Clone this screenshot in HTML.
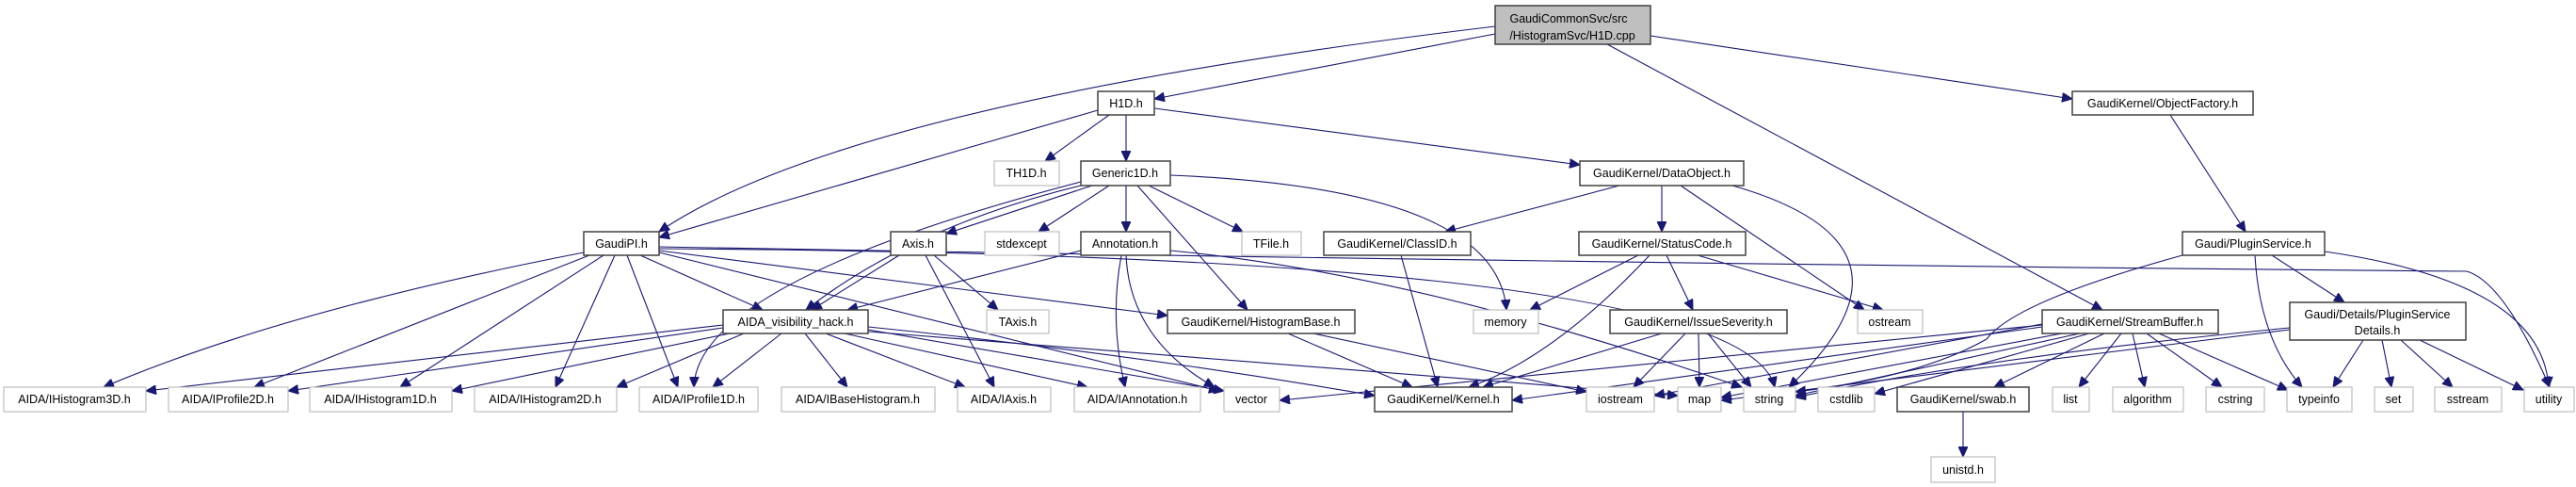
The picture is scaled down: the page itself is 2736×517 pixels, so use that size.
<!DOCTYPE html>
<html><head><meta charset="utf-8"><style>
html,body{margin:0;padding:0;background:#fff;}
svg{display:block;}
text{font-family:"Liberation Sans",sans-serif;font-size:12.5px;fill:#000;text-anchor:middle;}
.d{fill:#fff;stroke:#404040;stroke-width:1.5;}
.x{fill:#fff;stroke:#bfbfbf;stroke-width:1.2;}
.e path{fill:none;stroke:#191970;stroke-width:1.1;marker-end:url(#a);}
</style></head><body>
<svg width="2736" height="517" viewBox="0 0 2736 517" xmlns="http://www.w3.org/2000/svg">
<defs><marker id="a" markerUnits="userSpaceOnUse" markerWidth="12" markerHeight="10" refX="11" refY="5" orient="auto"><path d="M0,0 L11,5 L0,10 z" fill="#191970" stroke="#191970"/></marker></defs>
<g class="e">
<path d="M1588,36 L1226,105"/>
<path d="M1588,28 Q900,110 700,246"/>
<path d="M1753,38 L2201,105"/>
<path d="M1707,47 L2233,329"/>
<path d="M1166,117 L700,252"/>
<path d="M1178,122 L1110,171"/>
<path d="M1196,122 L1196,171"/>
<path d="M1226,115 L1678,175"/>
<path d="M1160,197 L1005,248"/>
<path d="M1178,197 L1103,246"/>
<path d="M1196,197 L1196,246"/>
<path d="M1220,197 L1320,246"/>
<path d="M1208,197 L1325,329"/>
<path d="M1243,186 Q1590,200 1600,329"/>
<path d="M1152,196 Q970,240 856,329"/>
<path d="M1148,193 Q740,300 737,411"/>
<path d="M955,271 L862,329"/>
<path d="M992,271 L1060,329"/>
<path d="M983,271 L1056,411"/>
<path d="M1148,266 L900,329"/>
<path d="M1191,271 Q1178,340 1195,411"/>
<path d="M1196,271 Q1200,360 1290,411"/>
<path d="M1243,266 Q1500,290 1850,411"/>
<path d="M620,268 Q300,330 110,411"/>
<path d="M626,271 L270,411"/>
<path d="M641,271 L425,411"/>
<path d="M653,271 L590,411"/>
<path d="M666,271 L720,411"/>
<path d="M680,271 L810,329"/>
<path d="M700,266 L1240,335"/>
<path d="M700,268 Q950,330 1295,415"/>
<path d="M700,262 Q1700,280 2620,288 Q2660,300 2708,411"/>
<path d="M700,264 Q1850,270 1885,411"/>
<path d="M768,345 L155,415"/>
<path d="M768,348 L306,415"/>
<path d="M775,354 L480,415"/>
<path d="M790,354 L655,411"/>
<path d="M830,354 L757,411"/>
<path d="M855,354 L900,411"/>
<path d="M877,354 L1025,411"/>
<path d="M897,354 L1155,411"/>
<path d="M922,350 L1300,415"/>
<path d="M922,347 Q1200,375 1460,420"/>
<path d="M922,352 L1782,420"/>
<path d="M1368,354 L1500,411"/>
<path d="M1395,354 L1685,416"/>
<path d="M1720,197 L1535,246"/>
<path d="M1765,197 L1765,246"/>
<path d="M1785,197 L1980,329"/>
<path d="M1840,197 Q2060,260 1900,411"/>
<path d="M1488,271 L1527,411"/>
<path d="M1740,271 L1625,329"/>
<path d="M1752,271 Q1650,380 1560,411"/>
<path d="M1770,271 L1798,329"/>
<path d="M1803,271 L2000,329"/>
<path d="M1765,354 L1575,411"/>
<path d="M1790,354 L1735,411"/>
<path d="M1804,354 L1805,411"/>
<path d="M1814,354 L1860,411"/>
<path d="M2305,122 L2385,246"/>
<path d="M2318,271 Q2140,320 2110,360 Q2040,400 1907,416"/>
<path d="M2395,271 Q2400,360 2445,411"/>
<path d="M2413,271 L2490,321"/>
<path d="M2469,267 Q2700,300 2707,411"/>
<path d="M2169,345 L1359,425"/>
<path d="M2169,347 L1606,425"/>
<path d="M2169,344 L1757,420"/>
<path d="M2190,354 L1828,422"/>
<path d="M2209,354 L1907,420"/>
<path d="M2219,354 L1991,418"/>
<path d="M2235,354 L2118,411"/>
<path d="M2253,354 L2208,411"/>
<path d="M2265,354 L2278,411"/>
<path d="M2280,354 L2360,411"/>
<path d="M2293,354 L2430,414"/>
<path d="M2510,361 L2478,411"/>
<path d="M2530,361 L2540,411"/>
<path d="M2550,361 L2605,411"/>
<path d="M2570,361 L2680,414"/>
<path d="M2432,348 Q2100,380 1907,422"/>
<path d="M2432,350 L1828,425"/>
<path d="M2085,437 L2085,485"/>
</g>
<g>
<rect x="1588" y="6" width="165" height="41" fill="#bfbfbf" stroke="#404040" stroke-width="1.5"/>
<text x="1666" y="24">GaudiCommonSvc/src</text><text x="1670" y="42">/HistogramSvc/H1D.cpp</text>

<rect class="d" x="1166" y="97" width="60" height="25"/><text x="1196" y="114">H1D.h</text>
<rect class="d" x="2201" y="97" width="192" height="25"/><text x="2297" y="114">GaudiKernel/ObjectFactory.h</text>

<rect class="x" x="1056" y="171" width="69" height="26"/><text x="1090" y="188">TH1D.h</text>
<rect class="d" x="1148" y="171" width="95" height="26"/><text x="1195" y="188">Generic1D.h</text>
<rect class="d" x="1678" y="171" width="174" height="26"/><text x="1765" y="188">GaudiKernel/DataObject.h</text>

<rect class="d" x="620" y="246" width="80" height="25"/><text x="660" y="263">GaudiPI.h</text>
<rect class="d" x="946" y="246" width="59" height="25"/><text x="975" y="263">Axis.h</text>
<rect class="x" x="1046" y="246" width="79" height="25"/><text x="1085" y="263">stdexcept</text>
<rect class="d" x="1148" y="246" width="95" height="25"/><text x="1195" y="263">Annotation.h</text>
<rect class="x" x="1319" y="246" width="63" height="25"/><text x="1350" y="263">TFile.h</text>
<rect class="d" x="1406" y="246" width="156" height="25"/><text x="1484" y="263">GaudiKernel/ClassID.h</text>
<rect class="d" x="1677" y="246" width="177" height="25"/><text x="1765" y="263">GaudiKernel/StatusCode.h</text>
<rect class="d" x="2318" y="246" width="151" height="25"/><text x="2393" y="263">Gaudi/PluginService.h</text>

<rect class="d" x="768" y="329" width="154" height="25"/><text x="845" y="346">AIDA_visibility_hack.h</text>
<rect class="x" x="1048" y="329" width="66" height="25"/><text x="1081" y="346">TAxis.h</text>
<rect class="d" x="1240" y="329" width="199" height="25"/><text x="1339" y="346">GaudiKernel/HistogramBase.h</text>
<rect class="x" x="1565" y="329" width="69" height="25"/><text x="1599" y="346">memory</text>
<rect class="d" x="1710" y="329" width="188" height="25"/><text x="1804" y="346">GaudiKernel/IssueSeverity.h</text>
<rect class="x" x="1973" y="329" width="69" height="25"/><text x="2007" y="346">ostream</text>
<rect class="d" x="2169" y="329" width="187" height="25"/><text x="2262" y="346">GaudiKernel/StreamBuffer.h</text>
<rect class="d" x="2432" y="321" width="187" height="40"/><text x="2525" y="338">Gaudi/Details/PluginService</text><text x="2525" y="355">Details.h</text>

<rect class="x" x="4" y="411" width="151" height="26"/><text x="79" y="428">AIDA/IHistogram3D.h</text>
<rect class="x" x="179" y="411" width="127" height="26"/><text x="242" y="428">AIDA/IProfile2D.h</text>
<rect class="x" x="329" y="411" width="151" height="26"/><text x="404" y="428">AIDA/IHistogram1D.h</text>
<rect class="x" x="504" y="411" width="151" height="26"/><text x="579" y="428">AIDA/IHistogram2D.h</text>
<rect class="x" x="679" y="411" width="126" height="26"/><text x="742" y="428">AIDA/IProfile1D.h</text>
<rect class="x" x="830" y="411" width="163" height="26"/><text x="911" y="428">AIDA/IBaseHistogram.h</text>
<rect class="x" x="1017" y="411" width="99" height="26"/><text x="1066" y="428">AIDA/IAxis.h</text>
<rect class="x" x="1141" y="411" width="134" height="26"/><text x="1208" y="428">AIDA/IAnnotation.h</text>
<rect class="x" x="1300" y="411" width="59" height="26"/><text x="1329" y="428">vector</text>
<rect class="d" x="1460" y="411" width="146" height="26"/><text x="1533" y="428">GaudiKernel/Kernel.h</text>
<rect class="x" x="1685" y="411" width="72" height="26"/><text x="1721" y="428">iostream</text>
<rect class="x" x="1782" y="411" width="46" height="26"/><text x="1805" y="428">map</text>
<rect class="x" x="1852" y="411" width="55" height="26"/><text x="1879" y="428">string</text>
<rect class="x" x="1931" y="411" width="60" height="26"/><text x="1961" y="428">cstdlib</text>
<rect class="d" x="2015" y="411" width="140" height="26"/><text x="2085" y="428">GaudiKernel/swab.h</text>
<rect class="x" x="2180" y="411" width="39" height="26"/><text x="2199" y="428">list</text>
<rect class="x" x="2244" y="411" width="75" height="26"/><text x="2281" y="428">algorithm</text>
<rect class="x" x="2343" y="411" width="62" height="26"/><text x="2374" y="428">cstring</text>
<rect class="x" x="2429" y="411" width="69" height="26"/><text x="2463" y="428">typeinfo</text>
<rect class="x" x="2522" y="411" width="41" height="26"/><text x="2542" y="428">set</text>
<rect class="x" x="2586" y="411" width="71" height="26"/><text x="2621" y="428">sstream</text>
<rect class="x" x="2681" y="411" width="53" height="26"/><text x="2707" y="428">utility</text>
<rect class="x" x="2051" y="485" width="68" height="27"/><text x="2085" y="503">unistd.h</text>
</g>
</svg>
</body></html>
